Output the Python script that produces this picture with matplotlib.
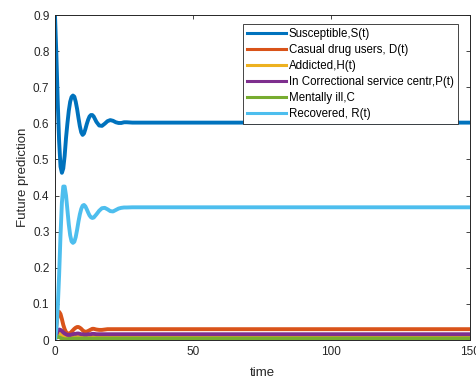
import matplotlib
matplotlib.use("Agg")
import matplotlib.pyplot as plt

plt.rcParams['font.family'] = ['Liberation Sans', 'DejaVu Sans']

# time points
t = [0, 0.5, 1, 1.5, 2, 2.5, 3, 3.5, 4, 4.5, 5, 5.5, 6, 6.5, 7, 7.5, 8, 8.5, 9, 9.5,
     10, 10.5, 11, 11.5, 12, 12.5, 13, 13.5, 14, 15, 16, 17, 18, 19, 20, 21, 22, 23,
     24, 25, 26, 28, 30, 150]

S = [0.90, 0.79, 0.66, 0.55, 0.48, 0.463, 0.475, 0.51, 0.56, 0.60, 0.635, 0.66, 0.673,
     0.677, 0.674, 0.66, 0.64, 0.615, 0.592, 0.575, 0.568, 0.572, 0.584, 0.598, 0.61,
     0.619, 0.623, 0.623, 0.619, 0.604, 0.594, 0.593, 0.599, 0.606, 0.609, 0.607, 0.603,
     0.601, 0.601, 0.603, 0.603, 0.602, 0.602, 0.602]

D = [0.01, 0.04, 0.07, 0.078, 0.072, 0.058, 0.042, 0.03, 0.022, 0.018, 0.017, 0.019,
     0.023, 0.027, 0.031, 0.034, 0.036, 0.036, 0.034, 0.031, 0.027, 0.024, 0.023, 0.023,
     0.025, 0.027, 0.029, 0.031, 0.031, 0.029, 0.028, 0.028, 0.029, 0.030, 0.030, 0.030,
     0.030, 0.030, 0.030, 0.030, 0.030, 0.030, 0.030, 0.030]

H = [0.0, 0.012, 0.018, 0.02, 0.018, 0.015, 0.012, 0.010, 0.009, 0.008, 0.008, 0.008,
     0.009, 0.009, 0.009, 0.009, 0.009, 0.009, 0.009, 0.009, 0.009, 0.009, 0.009, 0.009,
     0.009, 0.009, 0.009, 0.009, 0.009, 0.009, 0.009, 0.009, 0.009, 0.009, 0.009, 0.009,
     0.009, 0.009, 0.009, 0.009, 0.009, 0.009, 0.009, 0.009]

P = [0.0, 0.015, 0.025, 0.029, 0.028, 0.025, 0.021, 0.018, 0.016, 0.014, 0.014, 0.014,
     0.015, 0.016, 0.017, 0.017, 0.018, 0.018, 0.017, 0.016, 0.016, 0.015, 0.015, 0.015,
     0.016, 0.016, 0.016, 0.017, 0.017, 0.016, 0.016, 0.016, 0.016, 0.016, 0.016, 0.016,
     0.016, 0.016, 0.016, 0.016, 0.016, 0.016, 0.016, 0.016]

C = [0.005, 0.008, 0.009, 0.008, 0.006, 0.004, 0.003, 0.002, 0.002, 0.002, 0.003, 0.003,
     0.003, 0.004, 0.004, 0.004, 0.004, 0.004, 0.004, 0.004, 0.004, 0.004, 0.004, 0.004,
     0.004, 0.004, 0.004, 0.004, 0.004, 0.004, 0.004, 0.004, 0.004, 0.004, 0.004, 0.004,
     0.004, 0.004, 0.004, 0.004, 0.004, 0.004, 0.004, 0.004]

R = [0.0, 0.03, 0.09, 0.18, 0.29, 0.38, 0.425, 0.425, 0.40, 0.36, 0.32, 0.29, 0.273,
     0.269, 0.272, 0.285, 0.305, 0.328, 0.348, 0.363, 0.372, 0.374, 0.37, 0.362, 0.353,
     0.345, 0.34, 0.338, 0.339, 0.348, 0.358, 0.365, 0.366, 0.362, 0.357, 0.356, 0.36,
     0.364, 0.366, 0.367, 0.367, 0.3675, 0.3675, 0.3675]

series = [
    (S, '#0072BD', 'Susceptible,S(t)'),
    (D, '#D95319', 'Casual drug users, D(t)'),
    (H, '#EDB120', 'Addicted,H(t)'),
    (P, '#7E2F8E', 'In Correctional service centr,P(t)'),
    (C, '#77AC30', 'Mentally ill,C'),
    (R, '#4DBEEE', 'Recovered, R(t)'),
]

fig = plt.figure(figsize=(4.76, 3.81), dpi=100)
ax = fig.add_axes([0.1155, 0.1076, 0.871, 0.853])

for vals, col, lab in series:
    ax.plot(t, vals, color=col, linewidth=2.8, label=lab)

ax.set_xlim(0, 150)
ax.set_ylim(0, 0.9)
ax.set_xticks([0, 50, 100, 150])
ax.set_yticks([0, 0.1, 0.2, 0.3, 0.4, 0.5, 0.6, 0.7, 0.8, 0.9])
ax.set_yticklabels(['0', '0.1', '0.2', '0.3', '0.4', '0.5', '0.6', '0.7', '0.8', '0.9'])
ax.tick_params(direction='in', top=True, right=True, length=3, width=0.6,
               labelsize=8.5, colors='#262626', pad=4)
for sp in ax.spines.values():
    sp.set_color('#262626')
    sp.set_linewidth(0.7)

ax.set_xlabel('time', fontsize=9.5, color='#262626', labelpad=7)
ax.set_ylabel('Future prediction', fontsize=9.5, color='#262626', labelpad=3)

leg = ax.legend(loc='upper right', bbox_to_anchor=(0.971, 0.972), fontsize=8.3,
                frameon=True, fancybox=False, framealpha=1, edgecolor='#262626',
                handlelength=3.4, handletextpad=0.2, labelspacing=0.34,
                borderpad=0.35, borderaxespad=0)
leg.get_frame().set_linewidth(0.6)
for line in leg.get_lines():
    line.set_linewidth(2.2)

fig.savefig('out.png', dpi=100)
